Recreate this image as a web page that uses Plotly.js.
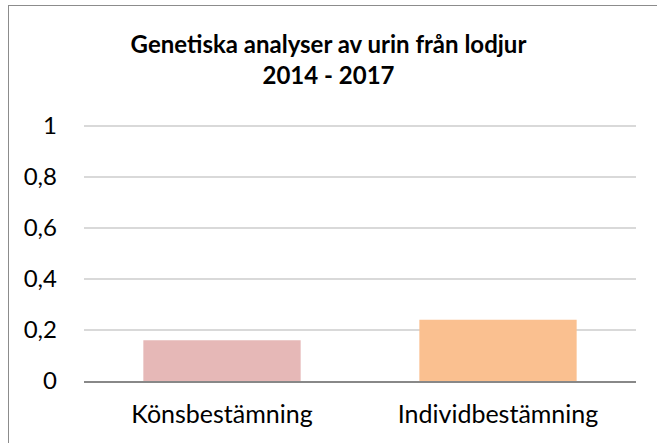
<!DOCTYPE html>
<html><head><meta charset="utf-8">
<script src="https://cdn.plot.ly/plotly-3.0.1.min.js"></script>
<style>
html,body{margin:0;padding:0;background:#fff;overflow:hidden}
#frame{position:absolute;left:8px;top:5px;width:700px;height:500px;border:1px solid #8c8c8c;box-sizing:border-box}
#chart{position:absolute;left:0;top:0;width:657px;height:443px}
</style></head>
<body>
<div id="frame"></div>
<div id="chart"></div>
<script>
var categories = ['Könsbestämning', 'Individbestämning'];
var values = [0.16, 0.24];
var barColors = ['#E6B8B7', '#FAC090'];
var yTicks = [0, 0.2, 0.4, 0.6, 0.8, 1];

var font = 'Lato, Carlito, Calibri, sans-serif';
Plotly.newPlot('chart', [{
  type: 'bar', x: categories, y: values,
  marker: {color: barColors}, hoverinfo: 'none'
}], {
  width: 657, height: 443,
  paper_bgcolor: 'rgba(0,0,0,0)', plot_bgcolor: 'rgba(0,0,0,0)',
  margin: {l: 84, r: 21, t: 125, b: 62},
  separators: ',.',
  bargap: 0.43,
  showlegend: false,
  title: {text: '<b>Genetiska analyser av urin från lodjur<br>2014 - 2017</b>',
    font: {family: font, size: 24, color: '#000'}, x: 0.5, xanchor: 'center', y: 0.88, yanchor: 'top'},
  xaxis: {showgrid: false, showline: true, linecolor: '#888', linewidth: 2,
    tickfont: {family: font, size: 25, color: '#000'}, ticks: '', ticklabelstandoff: 10},
  yaxis: {range: [0, 1.004], tickvals: yTicks, showgrid: true, gridcolor: '#d9d9d9', gridwidth: 1.5,
    zeroline: false, showline: false, ticks: '',
    tickfont: {family: font, size: 24, color: '#000'}, ticklabelstandoff: 26}
}, {staticPlot: true});
</script>
</body></html>
